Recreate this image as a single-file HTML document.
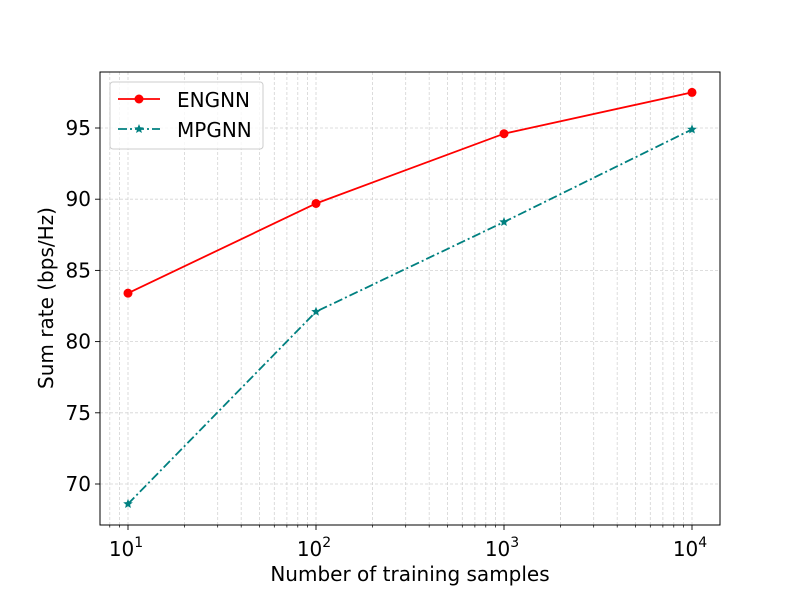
<!DOCTYPE html>
<html><head><meta charset="utf-8"><style>
body{margin:0;background:#fff}
svg{display:block;font-family:"DejaVu Sans","Liberation Sans",sans-serif}
</style></head><body>
<svg id="chart" width="800" height="600"></svg>
<script>
const xValues=[10,100,1000,10000];
const engnnValues=[83.4,89.7,94.6,97.5];
const mpgnnValues=[68.6,82.1,88.4,94.9];
const yTicks=[70,75,80,85,90,95];
const xTickExps=[1,2,3,4];

const L=100,R=720,T=72,B=525;
const X0=128,PXD=188;
function xs(v){return X0+(Math.log10(v)-1)*PXD;}
function ys(v){return 484-(v-70)*14.24;}
const NS='http://www.w3.org/2000/svg';
const svg=document.getElementById('chart');
function mk(tag,attrs,parent){const e=document.createElementNS(NS,tag);for(const k in attrs)e.setAttribute(k,attrs[k]);(parent||svg).appendChild(e);return e;}

const grid=mk('g',{});


for(let d=0;d<=4;d++){for(let m=1;m<=9;m++){const v=m*Math.pow(10,d);const x=xs(v);if(x<=L||x>=R)continue;
 mk('line',{x1:x,x2:x,y1:T,y2:B,stroke:'#d3d3d3','stroke-width':0.8,'stroke-dasharray':'3,2'},grid);
 mk('line',{x1:x,x2:x,y1:B,y2:B+(m===1?5:2.5),stroke:'#000','stroke-width':m===1?0.9:0.7});}}
yTicks.forEach(v=>{const y=ys(v);
 mk('line',{x1:L,x2:R,y1:y,y2:y,stroke:'#d3d3d3','stroke-width':0.8,'stroke-dasharray':'3,2'},grid);
 mk('line',{x1:L-5,x2:L,y1:y,y2:y,stroke:'#000','stroke-width':0.9});
 const t=mk('text',{x:L-9,y:y+7,'text-anchor':'end','font-size':20});t.textContent=v;
 
 
});
xTickExps.forEach(e=>{const x=xs(Math.pow(10,e));
 const t=mk('text',{x:x-2,y:556,'text-anchor':'middle','font-size':20});
 t.innerHTML='10<tspan dy="-9" font-size="14">'+e+'</tspan>';
 
 
});

const eng=mk('g',{});


mk('polyline',{points:xValues.map((v,i)=>xs(v)+','+ys(engnnValues[i])).join(' '),fill:'none',stroke:'#ff0000','stroke-width':1.8},eng);
xValues.forEach((v,i)=>{mk('circle',{cx:xs(v),cy:ys(engnnValues[i]),r:4.5,fill:'#ff0000'},eng);});

function star(cx,cy,r,parent,color){let p=[];for(let k=0;k<10;k++){const a=-Math.PI/2+k*Math.PI/5;const rr=k%2?r*0.45:r;p.push((cx+rr*Math.cos(a)).toFixed(1)+','+(cy+rr*Math.sin(a)).toFixed(1));}
 return mk('polygon',{points:p.join(' '),fill:color},parent);}
const mp=mk('g',{});


mk('polyline',{points:xValues.map((v,i)=>xs(v)+','+ys(mpgnnValues[i])).join(' '),fill:'none',stroke:'#008080','stroke-width':1.8,'stroke-dasharray':'9,3,2,3'},mp);
xValues.forEach((v,i)=>{star(xs(v),ys(mpgnnValues[i]),5,mp,'#008080');});

const fr=mk('rect',{x:L,y:T,width:R-L,height:B-T,fill:'none',stroke:'#000','stroke-width':1});



const lg=mk('g',{});


mk('rect',{x:110,y:82,width:153,height:67,rx:3,fill:'#fff','fill-opacity':0.8,stroke:'#ccc','stroke-width':1},lg);
mk('line',{x1:118,x2:160,y1:99,y2:99,stroke:'#ff0000','stroke-width':1.8},lg);
mk('circle',{cx:139,cy:99,r:4.5,fill:'#ff0000'},lg);
const t1=mk('text',{x:177,y:107,'font-size':20},lg);t1.textContent='ENGNN';


mk('line',{x1:118,x2:160,y1:129,y2:129,stroke:'#008080','stroke-width':1.8,'stroke-dasharray':'9,3,2,3'},lg);
star(139,129,5,lg,'#008080');
const t2=mk('text',{x:177,y:137,'font-size':20},lg);t2.textContent='MPGNN';



const xt=mk('text',{x:410,y:581,'text-anchor':'middle','font-size':20});xt.textContent='Number of training samples';


const yt=mk('text',{x:0,y:0,'text-anchor':'middle','font-size':20,transform:'translate(53,298) rotate(-90)'});yt.textContent='Sum rate (bps/Hz)';


</script>
</body></html>
